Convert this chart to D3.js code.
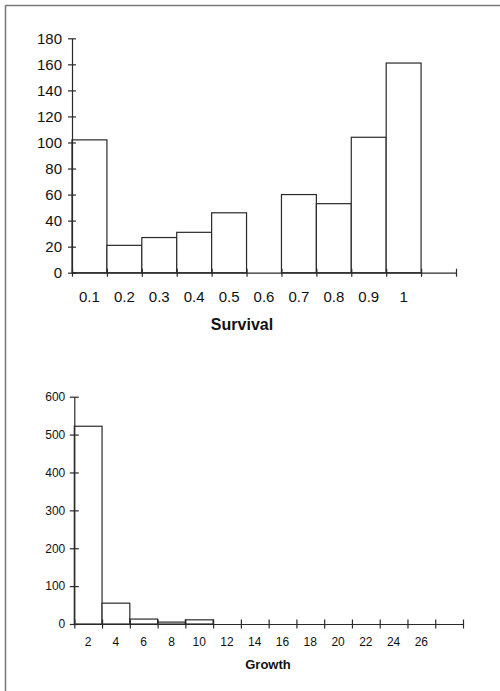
<!DOCTYPE html>
<html><head><meta charset="utf-8">
<script src="https://cdn.jsdelivr.net/npm/d3@7"></script>
<style>
html,body{margin:0;padding:0;background:#fff;}
svg{display:block;}
text{font-family:"Liberation Sans",Arial,sans-serif;fill:#111;}
</style></head>
<body>
<svg id="c" width="500" height="691"></svg>
<script>
// Top histogram: Survival
const survivalLabels = ["0.1","0.2","0.3","0.4","0.5","0.6","0.7","0.8","0.9","1"];
const survivalCounts = [102, 21, 27, 31, 46, 0, 60, 53, 104, 161];
const survivalYTicks = [0,20,40,60,80,100,120,140,160,180];
const survivalBins = 11;

// Bottom histogram: Growth
const growthLabels = ["2","4","6","8","10","12","14","16","18","20","22","24","26"];
const growthCounts = [522, 55, 13, 5, 11, 0, 0, 0, 0, 0, 0, 0, 0];
const growthYTicks = [0,100,200,300,400,500,600];
const growthBins = 14;

const svg = d3.select("#c");
const ink = "#2a2a2a";

// frame (left and top edges)
svg.append("line").attr("x1",5.5).attr("x2",5.5).attr("y1",5).attr("y2",691).attr("stroke","#777").attr("stroke-width",1.5);
svg.append("line").attr("x1",5).attr("x2",500).attr("y1",5.5).attr("y2",5.5).attr("stroke","#777").attr("stroke-width",1.5);

function hist(cfg){
  const g = svg.append("g");
  const x = d3.scaleLinear().domain([0,cfg.bins]).range([cfg.x0,cfg.x1]);
  const y = d3.scaleLinear().domain([0,cfg.ymax]).range([cfg.y0,cfg.y1]);
  const bars = cfg.counts.map((v,i)=>({i, v})).filter(d=>d.v>0);

  // bars
  g.selectAll("rect.bar").data(bars).join("rect")
    .attr("class","bar")
    .attr("x",d=>x(d.i)).attr("width",d=>x(d.i+1)-x(d.i))
    .attr("y",d=>y(d.v)).attr("height",d=>y(0)-y(d.v))
    .attr("fill","#fff").attr("stroke",ink).attr("stroke-width",1.2);

  // y axis
  const ya = g.append("g").attr("transform",`translate(${x(0)},0)`)
    .call(d3.axisLeft(y).tickValues(cfg.yticks).tickSize(0).tickPadding(cfg.ypad));
  ya.select(".domain").attr("stroke",ink).attr("stroke-width",1.2);
  ya.selectAll(".tick line").remove();
  ya.selectAll(".tick").append("line").attr("x1",-cfg.tk).attr("x2",cfg.tk)
    .attr("stroke",ink).attr("stroke-width",1.2);
  ya.selectAll(".tick text").attr("font-size",cfg.fs).attr("fill","#111")
    .attr("font-family",'"Liberation Sans",Arial,sans-serif');

  // x axis
  const xa = g.append("g").attr("transform",`translate(0,${y(0)})`)
    .call(d3.axisBottom(x).tickValues(d3.range(cfg.bins+1)).tickSize(0).tickFormat(""));
  xa.select(".domain").attr("stroke",ink).attr("stroke-width",1.2);
  xa.selectAll(".tick line").remove();
  xa.selectAll(".tick").append("line").attr("y1",-cfg.tk).attr("y2",cfg.tk)
    .attr("stroke",ink).attr("stroke-width",1.2);

  // category labels centred in bins
  g.selectAll("text.xl").data(cfg.labels).join("text")
    .attr("class","xl")
    .attr("x",(d,i)=>(x(i)+x(i+1))/2).attr("y",cfg.xly)
    .attr("text-anchor","middle").attr("font-size",cfg.fs).text(d=>d);

  g.append("text").attr("x",cfg.titleX).attr("y",cfg.titleY)
    .attr("text-anchor","middle").attr("font-size",cfg.tfs).attr("font-weight","bold")
    .text(cfg.title);
}

hist({bins:survivalBins, counts:survivalCounts, labels:survivalLabels, yticks:survivalYTicks,
  ymax:180, x0:72, x1:456, y0:272.7, y1:38.3, ypad:10, tk:4, fs:15, xly:301.5,
  title:"Survival", titleX:242, titleY:329.5, tfs:16});

hist({bins:growthBins, counts:growthCounts, labels:growthLabels, yticks:growthYTicks,
  ymax:600, x0:74.3, x1:463, y0:624, y1:396.7, ypad:9, tk:4.5, fs:12, xly:646,
  title:"Growth", titleX:268, titleY:668.5, tfs:13});
</script>
</body></html>
